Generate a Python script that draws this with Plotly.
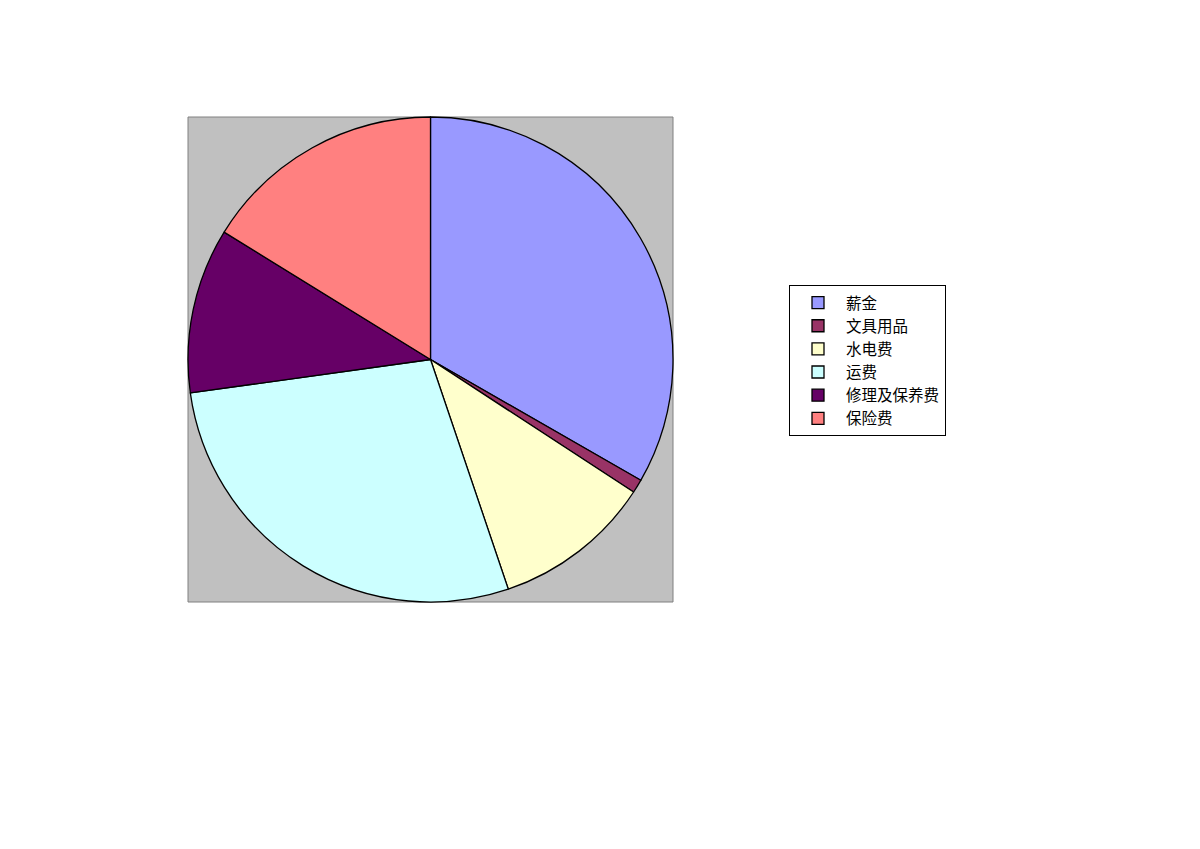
import plotly.graph_objects as go

labels = ["薪金", "文具用品", "水电费", "运费", "修理及保养费", "保险费"]
values = [33.3, 0.9, 10.6, 28.0, 11.0, 16.2]
colors = ["#9999FF", "#993366", "#FFFFCC", "#CCFFFF", "#660066", "#FF8080"]

W, H = 1200, 849
OFF = 8  # page body margin
x0, x1 = (188 - OFF) / W, (673 - OFF) / W
y0, y1 = 1 - (602 - OFF) / H, 1 - (117 - OFF) / H

fig = go.Figure(go.Pie(
    labels=labels,
    values=values,
    sort=False,
    direction="clockwise",
    rotation=0,
    textinfo="none",
    hoverinfo="label+percent",
    marker=dict(colors=colors, line=dict(color="#000000", width=1.3)),
    domain=dict(x=[x0, x1], y=[y0, y1]),
))

fig.add_shape(type="rect", xref="paper", yref="paper",
              x0=x0, x1=x1, y0=y0, y1=y1,
              fillcolor="#C0C0C0", line=dict(color="#808080", width=1),
              layer="below")

fig.update_layout(
    width=W, height=H,
    margin=dict(l=0, r=0, t=0, b=0),
    paper_bgcolor="white",
    plot_bgcolor="white",
    showlegend=True,
    legend=dict(
        x=(789 - OFF) / W, y=1 - (285 - OFF) / H, xanchor="left", yanchor="top",
        bordercolor="#000000", borderwidth=1, bgcolor="white",
        font=dict(family="Noto Sans CJK SC", size=15.5, color="#000000"),
        itemwidth=46,
        tracegroupgap=0,
    ),
)

fig.write_html("out.html")
